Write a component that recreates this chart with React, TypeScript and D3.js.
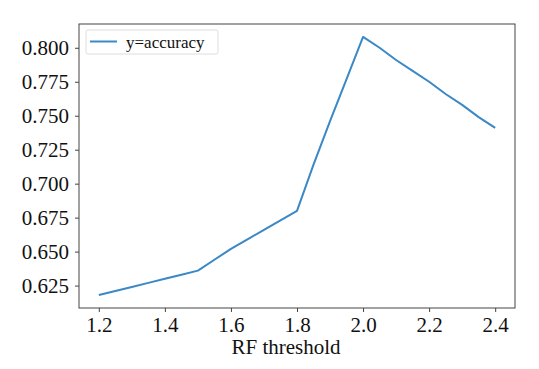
import React, { useRef, useEffect } from 'react';
import * as d3 from 'd3';

// RF threshold values and measured accuracy
const thresholds = [1.2, 1.25, 1.3, 1.35, 1.4, 1.45, 1.5, 1.55, 1.6, 1.65, 1.7, 1.75, 1.8, 1.85, 1.9, 1.95, 2.0, 2.05, 2.1, 2.15, 2.2, 2.25, 2.3, 2.35, 2.4];
const accuracy = [0.618, 0.621, 0.624, 0.627, 0.630, 0.633, 0.636, 0.644, 0.652, 0.659, 0.666, 0.673, 0.680, 0.714, 0.746, 0.777, 0.808, 0.800, 0.791, 0.783, 0.775, 0.766, 0.758, 0.749, 0.741];
const xTicks = [1.2, 1.4, 1.6, 1.8, 2.0, 2.2, 2.4];
const yTicks = [0.625, 0.65, 0.675, 0.7, 0.725, 0.75, 0.775, 0.8];
const seriesLabel = 'y=accuracy';
const xLabel = 'RF threshold';

const App = () => {
    const ref = useRef<SVGSVGElement>(null);

    useEffect(() => {
        const svg = d3.select(ref.current);
        svg.selectAll('*').remove();

        const width = 539;
        const height = 369;
        const margin = { top: 24, right: 24, bottom: 61, left: 79 };
        const w = width - margin.left - margin.right;
        const h = height - margin.top - margin.bottom;
        const font = 'Liberation Serif';

        // matplotlib style 5% margins around the data
        const xExt = d3.extent(thresholds) as [number, number];
        const yExt = d3.extent(accuracy) as [number, number];
        const xPad = (xExt[1] - xExt[0]) * 0.05;
        const yPad = (yExt[1] - yExt[0]) * 0.05;
        const x = d3.scaleLinear().domain([xExt[0] - xPad, xExt[1] + xPad]).range([0, w]);
        const y = d3.scaleLinear().domain([yExt[0] - yPad, yExt[1] + yPad]).range([h, 0]);

        const g = svg.append('g')
            .attr('transform', `translate(${margin.left},${margin.top})`)
            .attr('font-family', font);

        // line
        const pts = thresholds.map((t, i) => [t, accuracy[i]] as [number, number]);
        g.append('path')
            .datum(pts)
            .attr('fill', 'none')
            .attr('stroke', '#3a88c6')
            .attr('stroke-width', 2)
            .attr('stroke-linejoin', 'round')
            .attr('d', d3.line().x(d => x(d[0])).y(d => y(d[1])));

        // frame
        g.append('rect')
            .attr('x', 0).attr('y', 0).attr('width', w).attr('height', h)
            .attr('fill', 'none').attr('stroke', '#444').attr('stroke-width', 1);

        // axes
        const xAxis = g.append('g')
            .attr('transform', `translate(0,${h})`)
            .call(d3.axisBottom(x).tickValues(xTicks).tickFormat(d3.format('.1f')).tickSize(4).tickPadding(5));
        const yAxis = g.append('g')
            .call(d3.axisLeft(y).tickValues(yTicks).tickFormat(d3.format('.3f')).tickSize(4).tickPadding(6));
        [xAxis, yAxis].forEach(a => {
            a.attr('font-family', font).attr('font-size', 21);
            a.select('.domain').remove();
            a.selectAll('line').attr('stroke', '#444');
            a.selectAll('text').attr('fill', '#111');
        });

        // x label (sits a little left of the axes centre in the source)
        g.append('text')
            .attr('x', w / 2 - 11)
            .attr('y', h + 46)
            .attr('text-anchor', 'middle')
            .attr('font-size', 21)
            .attr('fill', '#111')
            .text(xLabel);

        // legend
        const lg = g.append('g').attr('transform', 'translate(7,6)');
        lg.append('rect')
            .attr('width', 132).attr('height', 24).attr('rx', 2)
            .attr('fill', 'white').attr('stroke', '#ddd');
        lg.append('line')
            .attr('x1', 4).attr('x2', 31).attr('y1', 11.5).attr('y2', 11.5)
            .attr('stroke', '#3a88c6').attr('stroke-width', 2);
        lg.append('text')
            .attr('x', 40).attr('y', 18)
            .attr('font-size', 17)
            .attr('fill', '#111')
            .text(seriesLabel);
    }, []);

    return (
        <svg ref={ref} width={539} height={369} style={{ position: 'absolute', left: 0, top: 0, background: 'white' }}></svg>
    );
};

export default App;
